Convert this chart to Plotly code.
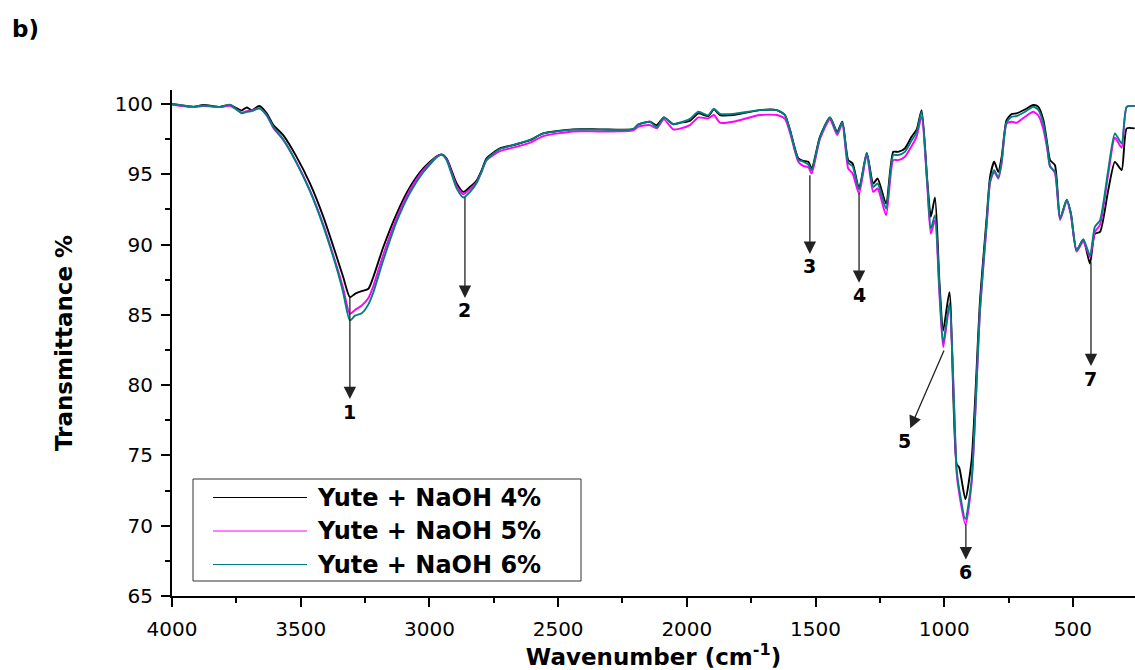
import plotly.graph_objects as go

# FTIR spectra of jute fibre treated with NaOH (transmittance %, wavenumber cm-1)
wavenumber = [
    4000, 3917, 3878, 3814, 3775, 3729, 3710, 3690, 3661, 3632,
    3606, 3568, 3516, 3464, 3412, 3360, 3335, 3309, 3289, 3263,
    3237, 3218, 3179, 3127, 3075, 3024, 2972, 2952, 2933, 2894,
    2868, 2842, 2816, 2797, 2778, 2726, 2674, 2609, 2558, 2441,
    2337, 2208, 2188, 2143, 2117, 2089, 2053, 2027, 1988, 1955,
    1917, 1895, 1871, 1820, 1716, 1651, 1619, 1599, 1567, 1548,
    1528, 1515, 1483, 1444, 1416, 1396, 1373, 1356, 1331, 1301,
    1276, 1259, 1226, 1198, 1179, 1153, 1127, 1107, 1088, 1066,
    1052, 1036, 1019, 1004, 980, 952, 942, 918, 894, 861,
    835, 822, 806, 790, 777, 758, 738, 719, 686, 654,
    635, 615, 600, 589, 570, 550, 524, 508, 486, 460,
    434, 415, 395, 363, 337, 311, 291, 260,
]

naoh_4 = [
    100.00, 99.80, 99.93, 99.80, 99.93, 99.55, 99.76, 99.57, 99.86, 99.34,
    98.50, 97.79, 96.24, 94.35, 91.97, 89.12, 87.69, 86.26, 86.50, 86.69,
    86.86, 87.69, 89.83, 92.21, 94.11, 95.42, 96.29, 96.41, 96.13, 94.35,
    93.75, 94.11, 94.58, 95.30, 96.13, 96.84, 97.08, 97.43, 97.91, 98.20,
    98.20, 98.22, 98.55, 98.74, 98.50, 99.05, 98.57, 98.67, 98.81, 99.34,
    99.14, 99.62, 99.22, 99.22, 99.57, 99.57, 99.22, 98.15, 96.13, 95.96,
    95.89, 95.42, 97.67, 99.05, 98.03, 98.74, 96.01, 95.77, 93.99, 96.53,
    94.35, 94.70, 92.92, 96.60, 96.60, 96.84, 97.67, 98.20, 99.57, 94.58,
    91.97, 93.35, 87.45, 83.89, 86.62, 74.39, 74.15, 71.89, 74.62, 86.03,
    91.97, 94.82, 95.89, 95.17, 96.24, 98.86, 99.29, 99.34, 99.62, 99.93,
    99.81, 98.86, 97.20, 96.01, 95.65, 91.85, 93.20, 92.21, 89.59, 90.36,
    88.65, 90.78, 90.90, 93.87, 95.89, 95.30, 98.27, 98.27,
]

naoh_5 = [
    99.95, 99.78, 99.85, 99.78, 99.88, 99.40, 99.50, 99.55, 99.70, 99.20,
    98.30, 97.45, 95.85, 93.85, 91.40, 88.45, 86.90, 85.08, 85.35, 85.67,
    86.20, 87.05, 89.30, 91.90, 93.90, 95.30, 96.25, 96.40, 96.05, 94.15,
    93.58, 93.95, 94.45, 95.20, 96.00, 96.65, 96.90, 97.25, 97.72, 98.05,
    98.05, 98.12, 98.40, 98.50, 98.27, 98.91, 98.20, 98.25, 98.50, 99.05,
    98.98, 99.22, 98.67, 98.74, 99.22, 99.22, 98.95, 97.95, 95.90, 95.60,
    95.50, 95.06, 97.50, 98.90, 97.80, 98.60, 95.40, 95.06, 93.63, 96.40,
    93.75, 93.99, 92.09, 96.01, 96.01, 96.25, 97.00, 97.70, 99.10, 94.20,
    90.78, 91.73, 86.60, 82.70, 85.55, 73.80, 72.30, 70.10, 73.00, 85.30,
    91.40, 94.40, 95.17, 94.70, 95.80, 98.60, 98.74, 98.67, 99.10, 99.45,
    99.20, 98.20, 96.80, 95.60, 95.10, 91.75, 93.10, 92.10, 89.50, 90.20,
    89.12, 90.90, 91.40, 95.00, 97.60, 96.90, 99.80, 99.86,
]

naoh_6 = [
    100.00, 99.82, 99.90, 99.80, 99.95, 99.34, 99.45, 99.50, 99.69, 99.20,
    98.35, 97.50, 95.80, 93.80, 91.30, 88.30, 86.60, 84.60, 84.95, 85.12,
    85.75, 86.60, 88.90, 91.65, 93.70, 95.15, 96.20, 96.40, 96.00, 94.00,
    93.35, 93.75, 94.40, 95.20, 96.05, 96.80, 97.08, 97.45, 97.91, 98.18,
    98.18, 98.22, 98.55, 98.74, 98.34, 99.05, 98.57, 98.67, 98.95, 99.45,
    99.20, 99.67, 99.30, 99.30, 99.57, 99.57, 99.22, 98.10, 96.05, 95.90,
    95.70, 95.30, 97.60, 99.05, 97.95, 98.70, 95.80, 95.58, 93.92, 96.53,
    94.10, 94.35, 92.57, 96.37, 96.37, 96.60, 97.40, 98.00, 99.45, 94.40,
    91.14, 92.09, 86.90, 83.06, 85.79, 74.00, 72.60, 70.47, 73.20, 85.40,
    91.60, 94.50, 95.30, 94.77, 95.90, 98.70, 99.10, 99.14, 99.45, 99.81,
    99.60, 98.60, 97.00, 95.53, 95.20, 91.85, 93.20, 92.21, 89.59, 90.36,
    89.24, 91.26, 91.73, 95.30, 97.91, 97.20, 99.81, 99.86,
]

series_names = ["Yute + NaOH 4%", "Yute + NaOH 5%", "Yute + NaOH 6%"]
series_colors = ["#000000", "#ff00ff", "#008080"]

# Marked absorption bands: arrow starts on the spectrum and points at its number
band_labels = ["1", "2", "3", "4", "5", "6", "7"]
band_point_w = [3309, 2862, 1522, 1331, 1001, 916, 430]
band_point_t = [86.26, 93.37, 94.94, 93.66, 82.47, 70.13, 88.74]
band_label_w = [3309, 2862, 1522, 1331, 1153, 916, 430]
band_label_t = [78.12, 85.32, 88.45, 86.39, 76.05, 66.71, 80.47]

W, H = 1135, 670
ML, MR, MT, MB = 172, 0, 90, 74
PW, PH = W - ML - MR, H - MT - MB

FONT = "DejaVu Sans"


def px_x(p):
    return (p - ML) / PW


def px_y(p):
    return (H - MB - p) / PH


fig = go.Figure()
for name, color, vals in zip(series_names, series_colors, [naoh_4, naoh_5, naoh_6]):
    fig.add_trace(go.Scatter(
        x=wavenumber, y=vals, mode="lines", name=name,
        line=dict(color=color, width=1.9, shape="spline", smoothing=0.6),
        showlegend=False,
    ))

annotations = []
for lab, pw, pt, lw, lt in zip(band_labels, band_point_w, band_point_t,
                               band_label_w, band_label_t):
    annotations.append(dict(
        x=pw, y=pt, ax=lw, ay=lt, xref="x", yref="y", axref="x", ayref="y",
        text=lab, showarrow=True, arrowside="start",
        startarrowhead=2, startarrowsize=1.9, arrowwidth=1.3, arrowcolor="#222222",
        standoff=0, startstandoff=1, borderpad=0,
        font=dict(family=FONT, size=19, color="black", weight="bold"),
    ))

annotations.append(dict(
    x=px_x(10), y=px_y(29), xref="paper", yref="paper", text="b)", showarrow=False,
    font=dict(family=FONT, size=23, color="black", weight="bold"),
    xanchor="left", yanchor="middle",
))

# Legend box with line swatches
shapes = [dict(
    type="rect", xref="paper", yref="paper",
    x0=px_x(193), x1=px_x(581), y0=px_y(581), y1=px_y(479),
    line=dict(color="#333333", width=1), fillcolor="white", layer="above",
)]
legend_rows = [497.5, 531, 564.5]
for name, color, row in zip(series_names, series_colors, legend_rows):
    shapes.append(dict(
        type="line", xref="paper", yref="paper",
        x0=px_x(213), x1=px_x(307), y0=px_y(row), y1=px_y(row),
        line=dict(color=color, width=1.2), layer="above",
    ))
    annotations.append(dict(
        x=px_x(315), y=px_y(row), xref="paper", yref="paper", text=name,
        showarrow=False, xanchor="left", yanchor="middle",
        font=dict(family=FONT, size=24, color="black", weight="bold"),
    ))

fig.update_layout(
    width=W, height=H,
    margin=dict(l=ML, r=MR, t=MT, b=MB, autoexpand=False),
    paper_bgcolor="white", plot_bgcolor="white",
    font=dict(family=FONT, color="black"),
    annotations=annotations, shapes=shapes,
    showlegend=False,
)
fig.update_xaxes(
    range=[4000, 259], autorange=False, dtick=500, tick0=0,
    showgrid=False, zeroline=False, showline=True, linecolor="black", linewidth=2,
    ticks="outside", ticklen=9, tickwidth=2, tickcolor="black",
    minor=dict(dtick=250, tick0=0, ticks="outside", ticklen=5, tickwidth=2, tickcolor="black"),
    tickfont=dict(family=FONT, size=20, color="black"), ticklabelstandoff=5,
    title=dict(text="Wavenumber (cm<sup>-1</sup>)", standoff=14,
               font=dict(family=FONT, size=23, color="black", weight="bold")),
)
fig.update_yaxes(
    range=[65, 101], autorange=False, dtick=5, tick0=0,
    showgrid=False, zeroline=False, showline=True, linecolor="black", linewidth=2,
    ticks="outside", ticklen=9, tickwidth=2, tickcolor="black",
    minor=dict(dtick=2.5, tick0=0, ticks="outside", ticklen=5, tickwidth=2, tickcolor="black"),
    tickfont=dict(family=FONT, size=20, color="black"), ticklabelstandoff=4,
    title=dict(text="Transmittance %", standoff=36,
               font=dict(family=FONT, size=23, color="black", weight="bold")),
)

fig.write_html("out.html")
